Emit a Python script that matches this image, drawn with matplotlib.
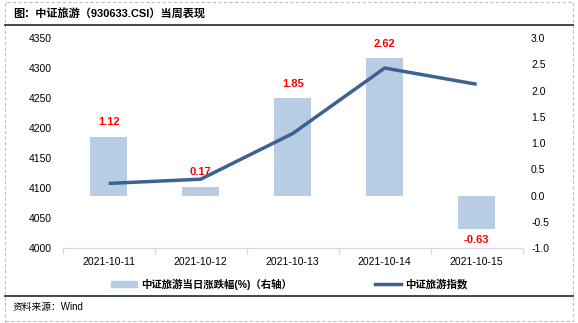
import matplotlib.pyplot as plt
from matplotlib.patches import Rectangle, Patch
from matplotlib.lines import Line2D

plt.rcParams['font.family'] = ['Liberation Sans', 'Noto Sans CJK SC', 'DejaVu Sans']

dates = ['2021-10-11', '2021-10-12', '2021-10-13', '2021-10-14', '2021-10-15']
pct_change = [1.12, 0.17, 1.85, 2.62, -0.63]
index_close = [4108, 4115, 4191, 4300, 4273]

bar_color = '#B8CCE4'
line_color = '#3D6190'

W, H = 578, 323
fig = plt.figure(figsize=(W / 100, H / 100), dpi=100)

# axes box in pixels: x 62.7..522.7, y 38..248.3
ax = fig.add_axes([62.7 / W, 1 - 248.3 / H, 460 / W, (248.3 - 38) / H])
ax2 = ax.twinx()

x = list(range(len(dates)))
ax2.bar(x, pct_change, width=0.4, color=bar_color, zorder=1)
for xi, v in zip(x, pct_change):
    if v >= 0:
        ax2.text(xi, v + 0.18, f'{v:.2f}', ha='center', va='bottom', color='red',
                 fontsize=8, fontweight='bold')
    else:
        ax2.text(xi, v - 0.12, f'{v:.2f}', ha='center', va='top', color='red',
                 fontsize=8, fontweight='bold')

ax.plot(x, index_close, color=line_color, linewidth=2.5, solid_capstyle='butt', zorder=5)
ax.set_zorder(ax2.get_zorder() + 1)
ax.patch.set_visible(False)

ax.set_xlim(-0.5, len(dates) - 0.5)
ax.set_ylim(4000, 4350)
ax.set_yticks(range(4000, 4351, 50))
ax2.set_ylim(-1.0, 3.0)
ax2.set_yticks([-1.0, -0.5, 0.0, 0.5, 1.0, 1.5, 2.0, 2.5, 3.0])
ax2.set_yticklabels([f'{t:.1f}' for t in ax2.get_yticks()])

for a in (ax, ax2):
    for s in ('top', 'left', 'right'):
        a.spines[s].set_visible(False)
    a.spines['bottom'].set_color('#D9D9D9')
    a.tick_params(axis='y', length=0, labelsize=7.5, colors='black')
ax.tick_params(axis='y', pad=8)
ax2.tick_params(axis='y', pad=6)

# category labels centered, tick marks between categories
ax.set_xticks(x)
ax.set_xticklabels(dates, fontsize=7.5)
ax.tick_params(axis='x', length=0, pad=6)
ax.set_xticks([i - 0.5 for i in range(len(dates) + 1)], minor=True)
ax.tick_params(axis='x', which='minor', length=4, color='#D9D9D9', width=1)

# legend
handles = [Patch(color=bar_color), Line2D([], [], color=line_color, linewidth=2.5)]
labels = ['中证旅游当日涨跌幅(%)（右轴）', '中证旅游指数']
fig.legend(handles, labels, loc='center', bbox_to_anchor=(0.5, 1 - 284 / H), ncol=2,
           frameon=False, columnspacing=8.0, handlelength=2.5, handleheight=0.6,
           handletextpad=0.4, prop={'weight': 'bold', 'size': 7.5})

# title, source, rules and dashed frame
fig.text(13 / W, 1 - 14 / H, '图：中证旅游（930633.CSI）当周表现', fontsize=8,
         fontweight='bold', va='center', ha='left')
fig.text(13 / W, 1 - 307 / H, '资料来源：Wind', fontsize=7, va='center', ha='left')
fig.add_artist(Line2D([5 / W, 573 / W], [1 - 25 / H, 1 - 25 / H], color='#333845', linewidth=1.3))
fig.add_artist(Line2D([5 / W, 573 / W], [1 - 296 / H, 1 - 296 / H], color='#333845', linewidth=1.3))
fig.add_artist(Rectangle((5 / W, 2 / H), 568 / W, (H - 4) / H, fill=False,
                         edgecolor='#BFBFBF', linestyle=(0, (3, 2)), linewidth=0.8))

fig.savefig('out.png', dpi=100)
